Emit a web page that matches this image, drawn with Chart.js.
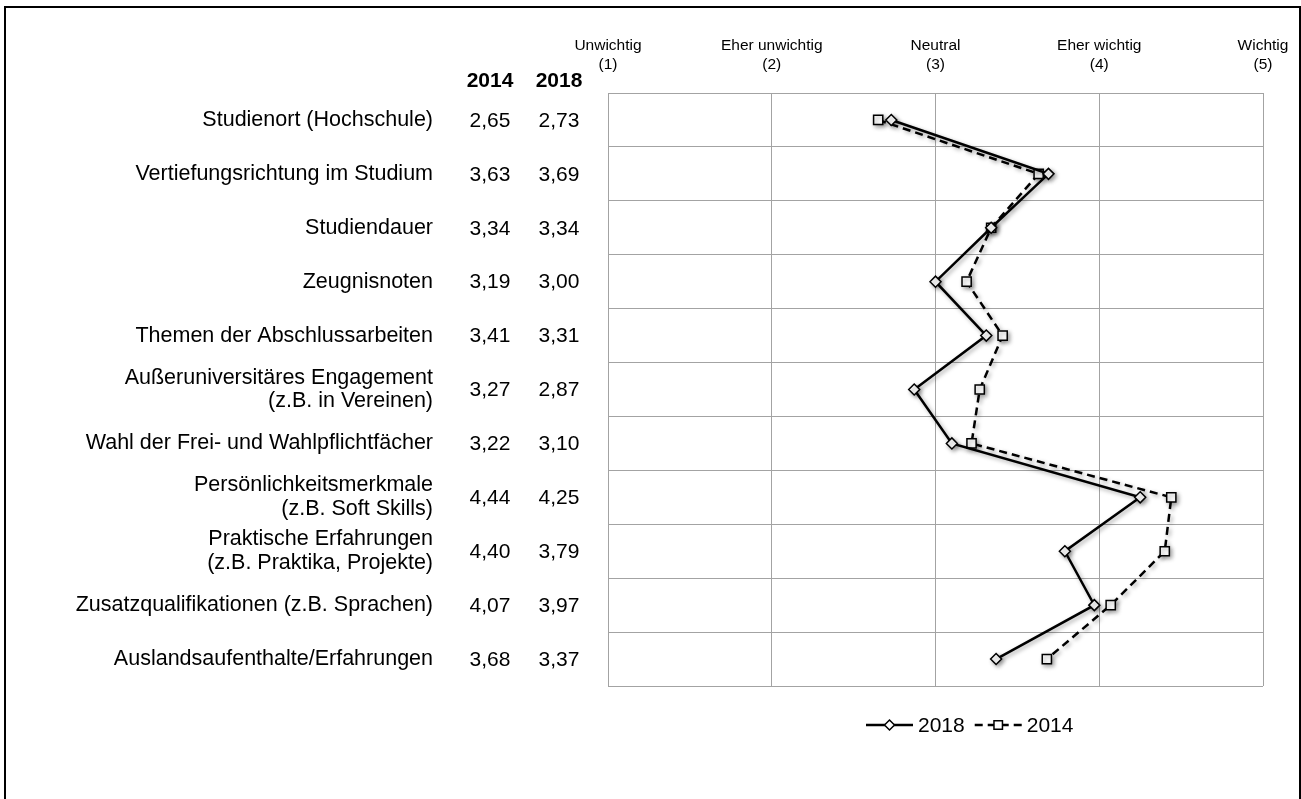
<!DOCTYPE html>
<html>
<head>
<meta charset="utf-8">
<script src="https://cdn.jsdelivr.net/npm/chart.js@4.4.1/dist/chart.umd.min.js"></script>
<style>
  html, body { margin: 0; padding: 0; background: #fff; }
  canvas { display: block; }
</style>
</head>
<body>
<canvas id="chart" width="1301" height="799"></canvas>
<script>
"use strict";

// categories (rows, top to bottom)
const categories = [
  "Studienort (Hochschule)",
  "Vertiefungsrichtung im Studium",
  "Studiendauer",
  "Zeugnisnoten",
  "Themen der Abschlussarbeiten",
  ["Außeruniversitäres Engagement", "(z.B. in Vereinen)"],
  "Wahl der Frei- und Wahlpflichtfächer",
  ["Persönlichkeitsmerkmale", "(z.B. Soft Skills)"],
  ["Praktische Erfahrungen", "(z.B. Praktika, Projekte)"],
  "Zusatzqualifikationen (z.B. Sprachen)",
  "Auslandsaufenthalte/Erfahrungen"
];

// series values
const values2014 = [2.65, 3.63, 3.34, 3.19, 3.41, 3.27, 3.22, 4.44, 4.40, 4.07, 3.68];
const values2018 = [2.73, 3.69, 3.34, 3.00, 3.31, 2.87, 3.10, 4.25, 3.79, 3.97, 3.37];

// scale tick labels (1..5)
const scaleNames = ["Unwichtig", "Eher unwichtig", "Neutral", "Eher wichtig", "Wichtig"];

const FONT = "'Liberation Sans', Arial, sans-serif";
const GRID = "#a3a3a3";

function fmt(v) {
  return v.toFixed(2).replace(".", ",");
}

// keep the label overflow out of the layout, plot area is fixed by afterFit
function noPadding(axis) {
  axis.paddingTop = 0;
  axis.paddingBottom = 0;
  axis.paddingLeft = 0;
  axis.paddingRight = 0;
}

// outer frame of the figure
const framePlugin = {
  id: "frame",
  beforeDraw(chart) {
    const ctx = chart.ctx;
    ctx.save();
    ctx.fillStyle = "#fff";
    ctx.fillRect(0, 0, chart.width, chart.height);
    ctx.strokeStyle = "#000";
    ctx.lineWidth = 2;
    ctx.beginPath();
    ctx.moveTo(5, chart.height + 5);
    ctx.lineTo(5, 7);
    ctx.lineTo(1300, 7);
    ctx.lineTo(1300, chart.height + 5);
    ctx.stroke();
    ctx.restore();
  }
};

// soft drop shadow under the lines and markers
const shadowPlugin = {
  id: "shadow",
  beforeDatasetsDraw(chart) {
    const ctx = chart.ctx;
    ctx.save();
    ctx.shadowColor = "rgba(0,0,0,0.35)";
    ctx.shadowBlur = 4;
    ctx.shadowOffsetX = 2;
    ctx.shadowOffsetY = 2;
  },
  afterDatasetsDraw(chart) {
    chart.ctx.restore();
  }
};

// value table (2014 / 2018 columns) next to the row labels
const tablePlugin = {
  id: "table",
  afterDraw(chart) {
    const ctx = chart.ctx;
    const y = chart.scales.y;
    const colX = [490, 559];
    ctx.save();
    ctx.fillStyle = "#000";
    ctx.textAlign = "center";
    ctx.textBaseline = "middle";
    ctx.font = "bold 21px " + FONT;
    ctx.fillText("2014", colX[0], 81);
    ctx.fillText("2018", colX[1], 81);
    ctx.font = "21px " + FONT;
    categories.forEach((c, i) => {
      const py = y.getPixelForValue(i);
      ctx.fillText(fmt(values2014[i]), colX[0], py + 1);
      ctx.fillText(fmt(values2018[i]), colX[1], py + 1);
    });
    ctx.restore();
  }
};

// legend: line + marker samples
const legendPlugin = {
  id: "lineLegend",
  afterDraw(chart) {
    const ctx = chart.ctx;
    const ly = 725;
    let x = 866;
    ctx.save();
    ctx.font = "21px " + FONT;
    ctx.textBaseline = "middle";
    ctx.fillStyle = "#000";
    chart.data.datasets.forEach((ds) => {
      ctx.strokeStyle = "#000";
      ctx.lineWidth = 2.5;
      ctx.setLineDash(ds.borderDash || []);
      ctx.beginPath();
      ctx.moveTo(x, ly);
      ctx.lineTo(x + 47, ly);
      ctx.stroke();
      ctx.setLineDash([]);
      ctx.lineWidth = 1.5;
      ctx.fillStyle = "#fff";
      Chart.helpers.drawPoint(ctx, {
        pointStyle: ds.pointStyle,
        radius: ds.pointRadius - 0.5,
        borderWidth: 1.5
      }, x + 23.5, ly);
      ctx.fillStyle = "#000";
      ctx.fillText(ds.label, x + 52, ly + 1);
      x += 52 + ctx.measureText(ds.label).width + 10;
    });
    ctx.restore();
  }
};

const canvas = document.getElementById("chart");
const ctx = canvas.getContext("2d");

new Chart(ctx, {
  type: "line",
  data: {
    labels: categories,
    datasets: [
      {
        label: "2018",
        data: values2018,
        borderColor: "#000",
        borderWidth: 2.5,
        pointStyle: "rectRot",
        pointRadius: 5.5,
        pointBorderWidth: 1.5,
        pointBackgroundColor: "#fff",
        pointBorderColor: "#000",
        tension: 0
      },
      {
        label: "2014",
        data: values2014,
        borderColor: "#000",
        borderWidth: 2.5,
        borderDash: [8, 5],
        pointStyle: "rect",
        pointRadius: 6.5,
        pointBorderWidth: 1.5,
        pointBackgroundColor: "#fff",
        pointBorderColor: "#000",
        tension: 0
      }
    ]
  },
  options: {
    indexAxis: "y",
    responsive: false,
    animation: false,
    layout: {
      padding: { left: 0, top: 0, right: 38, bottom: 113 }
    },
    scales: {
      x: {
        type: "linear",
        position: "top",
        min: 1,
        max: 5,
        afterFit(axis) { axis.height = 93; noPadding(axis); },
        ticks: {
          stepSize: 1,
          padding: 19,
          color: "#000",
          font: { family: FONT, size: 15.5, lineHeight: 1.2 },
          callback: (v) => [scaleNames[v - 1], "(" + v + ")"]
        },
        grid: { color: GRID, lineWidth: 1, drawTicks: false },
        border: { color: GRID, width: 1 }
      },
      y: {
        type: "category",
        offset: true,
        afterFit(axis) { axis.width = 608; noPadding(axis); },
        ticks: {
          padding: 175,
          color: "#000",
          font: { family: FONT, size: 21.5, lineHeight: 1.1 }
        },
        grid: { color: GRID, lineWidth: 1, offset: true, drawTicks: false },
        border: { color: GRID, width: 1 }
      }
    },
    plugins: {
      legend: { display: false },
      tooltip: { enabled: false }
    }
  },
  plugins: [framePlugin, shadowPlugin, tablePlugin, legendPlugin]
});
</script>
</body>
</html>
